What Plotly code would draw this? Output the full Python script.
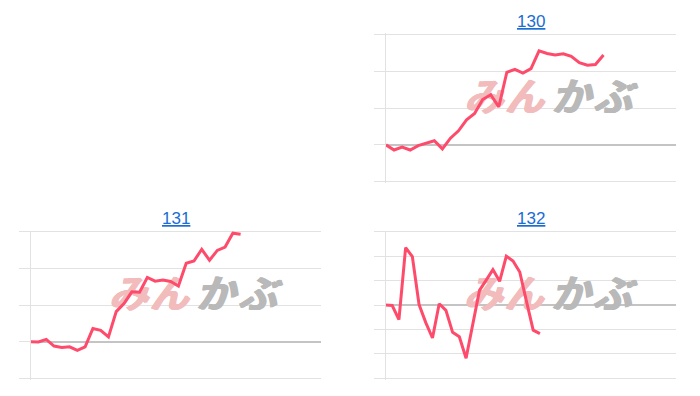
import plotly.graph_objects as go

# ---- data (percent-change style series) ----
titles = ["130", "131", "132"]

values_130 = [0.0, -0.14, -0.06, -0.14, -0.02, 0.05, 0.11, -0.11, 0.18, 0.38,
              0.68, 0.85, 1.23, 1.36, 1.03, 1.97, 2.05, 1.95, 2.07, 2.55,
              2.48, 2.44, 2.47, 2.40, 2.23, 2.16, 2.18, 2.44]

values_131 = [0.0, -0.01, 0.06, -0.12, -0.16, -0.14, -0.24, -0.14, 0.36, 0.31,
              0.13, 0.82, 1.04, 1.36, 1.35, 1.75, 1.65, 1.68, 1.64, 1.52,
              2.14, 2.20, 2.52, 2.22, 2.49, 2.58, 2.96, 2.93]

values_132 = [0.0, -0.02, -0.60, 2.35, 1.98, 0.02, -0.72, -1.35, 0.05, -0.22,
              -1.12, -1.30, -2.18, -0.80, 0.60, 1.02, 1.45, 0.97, 2.00, 1.80,
              1.35, 0.15, -1.03, -1.17]

x_span = [36.0, 37.3, 43.2]          # visible x-range (in sample steps)
y_ranges = [[-1, 3], [-1, 3], [-3, 3]]
series = [values_130, values_131, values_132]

# ---- layout geometry (pixels) ----
W, H = 700, 396
boxes = [  # left, right, top, bottom of each plot area
    (386.0, 676.0, 34.3, 181.7),
    (30.7, 320.7, 231.7, 378.3),
    (385.5, 675.5, 231.7, 378.3),
]
title_y = [21.7, 219.0, 219.0]

LINE = "#fe4b6b"
GRID = "#e2e2e2"
ZERO = "#c4c4c4"
TITLE = "#1a6dd2"
PAD = 1.2  # px of padding so the end gridlines are drawn

fig = go.Figure()
layout = dict(
    width=W, height=H, margin=dict(l=0, r=0, t=0, b=0),
    paper_bgcolor="white", plot_bgcolor="white", showlegend=False,
    annotations=[],
)

wm_parts = [  # (chars, x-fractions, colour)
    (["み", "ん"], [0.335, 0.475], "#f2bcbc"),
    (["か", "ぶ"], [0.635, 0.78], "#b9b9b9"),
]

for i, (vals, span, yr, box, ty, ttl) in enumerate(
        zip(series, x_span, y_ranges, boxes, title_y, titles)):
    n = i + 1
    xa = "x" if n == 1 else f"x{n}"
    ya = "y" if n == 1 else f"y{n}"
    xs = list(range(len(vals)))
    l, r, t, b = box
    y0, y1 = yr
    ppu = (b - t) / (y1 - y0)
    eps = PAD / ppu

    # watermark (drawn beneath the line), thickened with a text shadow
    wy = y0 + 0.547 * (y1 - y0)
    for chars, fx, col in wm_parts:
        fig.add_trace(go.Scatter(
            x=[f * span for f in fx], y=[wy] * len(chars), mode="text",
            text=chars, xaxis=xa, yaxis=ya, hoverinfo="skip",
            textfont=dict(family="Noto Sans CJK JP", size=39, color=col,
                          style="italic", weight="bold",
                          shadow=f"0.9px 0 0 {col}, 1.8px 0 0 {col}, 0 0.6px 0 {col}"),
        ))

    fig.add_trace(go.Scatter(
        x=xs, y=vals, mode="lines", xaxis=xa, yaxis=ya,
        line=dict(color=LINE, width=3), hoverinfo="skip",
    ))

    layout["xaxis" if n == 1 else f"xaxis{n}"] = dict(
        domain=[l / W, r / W], range=[0, span], anchor=ya,
        showgrid=False, zeroline=False, showline=False,
        showticklabels=False, ticks="",
    )
    layout["yaxis" if n == 1 else f"yaxis{n}"] = dict(
        domain=[1 - (b + PAD) / H, 1 - (t - PAD) / H],
        range=[y0 - eps, y1 + eps], anchor=xa, tick0=0, dtick=1,
        showgrid=True, gridcolor=GRID, gridwidth=1,
        zeroline=True, zerolinecolor=ZERO, zerolinewidth=1.5,
        showline=True, linecolor=GRID, linewidth=1,
        ticks="outside", ticklen=11, tickcolor=GRID, tickwidth=1,
        showticklabels=False,
    )
    layout["annotations"].append(dict(
        text=f"<u>{ttl}</u>", xref="paper", yref="paper",
        x=((l + r) / 2) / W, y=1 - ty / H, xanchor="center", yanchor="middle",
        showarrow=False,
        font=dict(family="Liberation Sans, Arial, sans-serif", size=17, color=TITLE),
    ))

fig.update_layout(**layout)
fig.write_html("out.html")
